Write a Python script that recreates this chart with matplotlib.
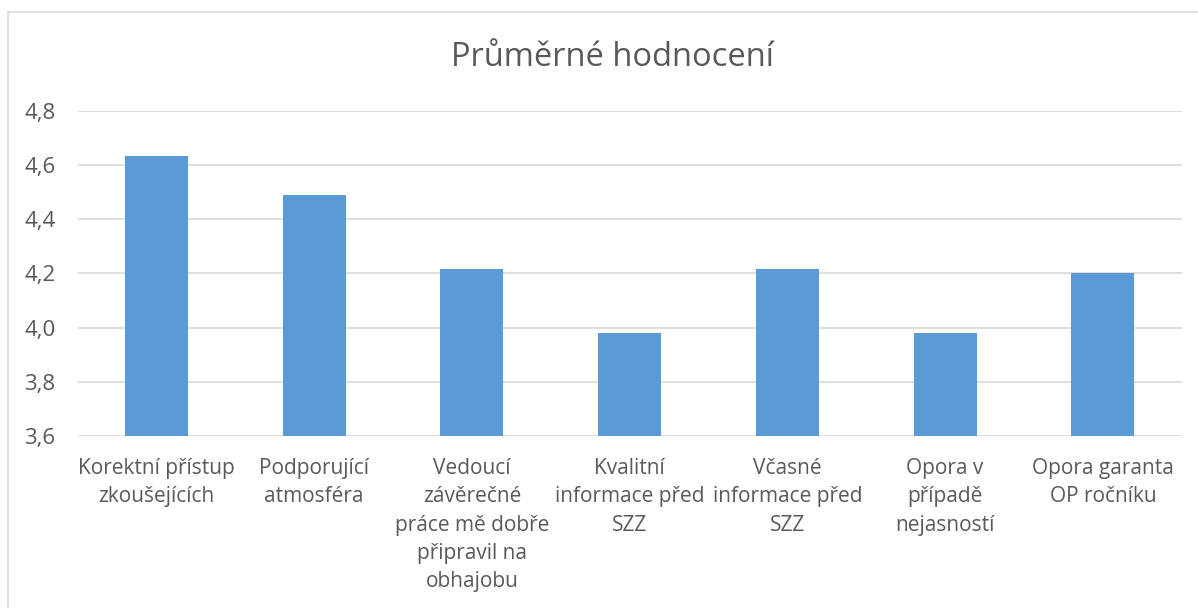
import matplotlib
matplotlib.use("Agg")
import matplotlib.pyplot as plt
from matplotlib.lines import Line2D

title = "Průměrné hodnocení"
categories = [
    "Korektní přístup\nzkoušejících",
    "Podporující\natmosféra",
    "Vedoucí\nzávěrečné\npráce mě dobře\npřipravil na\nobhajobu",
    "Kvalitní\ninformace před\nSZZ",
    "Včasné\ninformace před\nSZZ",
    "Opora v\npřípadě\nnejasností",
    "Opora garanta\nOP ročníku",
]
values = [4.635, 4.49, 4.217, 3.982, 4.217, 3.982, 4.20]
yticks = [3.6, 3.8, 4.0, 4.2, 4.4, 4.6, 4.8]
ytick_labels = ["3,6", "3,8", "4,0", "4,2", "4,4", "4,6", "4,8"]

W, H = 1198, 608
fig = plt.figure(figsize=(W / 100, H / 100), dpi=100)
fig.patch.set_facecolor("white")

font = "Open Sans"
txt = "#595959"

# chart border (top and left visible)
fig.add_artist(Line2D([8 / W, 8 / W], [0, 1 - 12 / H], transform=fig.transFigure,
                      color="#d9d9d9", lw=1.2))
fig.add_artist(Line2D([8 / W, 1], [1 - 12 / H, 1 - 12 / H], transform=fig.transFigure,
                      color="#d9d9d9", lw=1.2))

x0, x1 = 77.5, 1181.7
ytop, ybot = 111, 436
ax = fig.add_axes([x0 / W, 1 - ybot / H, (x1 - x0) / W, (ybot - ytop) / H])
ax.set_facecolor("none")

xs = list(range(len(categories)))
ax.bar(xs, values, width=0.4, color="#5b9bd5", zorder=3, bottom=0)
ax.set_xlim(-0.5, len(categories) - 0.5)
ax.set_ylim(3.6, 4.8)
ax.set_yticks(yticks)
ax.set_yticklabels(ytick_labels, fontsize=16, color=txt, fontfamily=font)
ax.set_xticks(xs)
ax.set_xticklabels(categories, fontsize=15, color=txt, fontfamily=font,
                   linespacing=1.45, va="top", ha="center")
ax.tick_params(axis="y", length=0, pad=16)
ax.tick_params(axis="x", length=0, pad=16)
for s in ax.spines.values():
    s.set_visible(False)
ax.grid(axis="y", color="#d9d9d9", lw=1.2, zorder=0)
ax.set_axisbelow(True)

fig.text(612 / W, 1 - 58 / H, title, ha="center", va="center", fontsize=23.5,
         color=txt, fontfamily=font)

fig.savefig("out.png", dpi=100, facecolor="white")
